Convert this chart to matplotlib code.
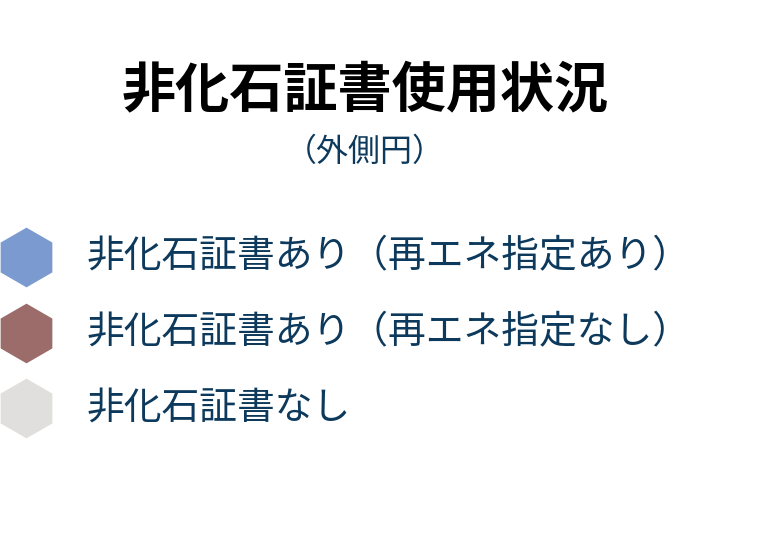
import matplotlib
matplotlib.use("Agg")
import matplotlib.pyplot as plt

plt.rcParams['font.family'] = ['Noto Sans CJK JP', 'DejaVu Sans']

title = "非化石証書使用状況"
subtitle = "（外側円）"
categories = ["非化石証書あり（再エネ指定あり）", "非化石証書あり（再エネ指定なし）", "非化石証書なし"]
colors = ["#7b9acf", "#9b6c69", "#e0dfdd"]

W, H = 767, 541
fig = plt.figure(figsize=(W / 100, H / 100), dpi=100)
ax = fig.add_axes([0, 0, 1, 1])
ax.set_xlim(0, W)
ax.set_ylim(H, 0)
ax.axis("off")

ax.text(365, 91, title, ha="center", va="center", fontsize=39, fontweight="bold", color="#000000")
ax.text(365, 152, subtitle, ha="center", va="center", fontsize=23, color="#0d3a5c")

y0, dy = 257, 75.5
for i, (lab, c) in enumerate(zip(categories, colors)):
    y = y0 + i * dy
    ax.scatter([26], [y], marker="h", s=43 ** 2, color=c, linewidths=0)
    ax.text(87, y, lab, ha="left", va="center", fontsize=27.2, color="#0d3a5c")

fig.savefig("out.png", dpi=100)
